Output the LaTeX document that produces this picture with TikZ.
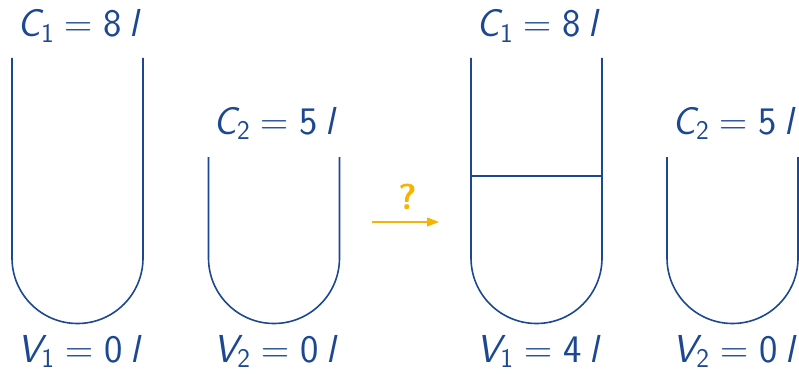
\documentclass[tikz,border=0pt]{standalone}
\usetikzlibrary{arrows.meta}
\definecolor{vblue}{RGB}{28,72,145}
\definecolor{vgold}{RGB}{245,180,0}
\newcommand{\vsub}[1]{\raisebox{-0.14em}{\fontsize{27}{27}\selectfont\upshape #1}}
\newcommand{\vlbl}[3]{\sffamily{\slshape #1}\vsub{#2}\hspace{0.28em}{\rmfamily\upshape =}\hspace{0.28em}#3\hspace{0.2em}{\slshape l}}
\begin{document}
\begin{tikzpicture}[x=1pt,y=1pt,
  vessel/.style={draw=vblue,line width=1.6pt},
  vtext/.style={text=vblue,font=\fontsize{39}{44}\selectfont,anchor=base,inner sep=0pt},
  qtext/.style={text=vgold,font=\fontsize{36}{40}\selectfont\sffamily\bfseries,anchor=base,inner sep=0pt}]
\useasboundingbox (0,0) rectangle (799,373);
% vessels
\draw[vessel] (12,315) -- (12,115) arc (180:360:65.5) -- (143,315);
\draw[vessel] (208.5,216) -- (208.5,115) arc (180:360:65.5) -- (339.5,216);
\draw[vessel] (471,315) -- (471,115) arc (180:360:65.5) -- (602,315);
\draw[vessel] (471,197) -- (602,197);
\draw[vessel] (667,216) -- (667,115) arc (180:360:65.5) -- (798,216);
% labels
\node[vtext] (c1a) at (78,336) {\vlbl{C}{1}{8}};
\node[vtext] (c2a) at (274,239) {\vlbl{C}{2}{5}};
\node[vtext] (c1b) at (537,336) {\vlbl{C}{1}{8}};
\node[vtext] (c2b) at (733,239) {\vlbl{C}{2}{5}};
\node[vtext] (v1a) at (78,11) {\vlbl{V}{1}{0}};
\node[vtext] (v2a) at (274,11) {\vlbl{V}{2}{0}};
\node[vtext] (v1b) at (537,11) {\vlbl{V}{1}{4}};
\node[vtext] (v2b) at (733,11) {\vlbl{V}{2}{0}};
% arrow
\coordinate (as) at (372,151);
\coordinate (ae) at (439,151);
\draw[vgold,line width=1.3pt,-{Triangle[length=12pt,width=9pt]}] (as) -- (ae);
\node[qtext] (q) at (408,164) {?};
\end{tikzpicture}
\end{document}
